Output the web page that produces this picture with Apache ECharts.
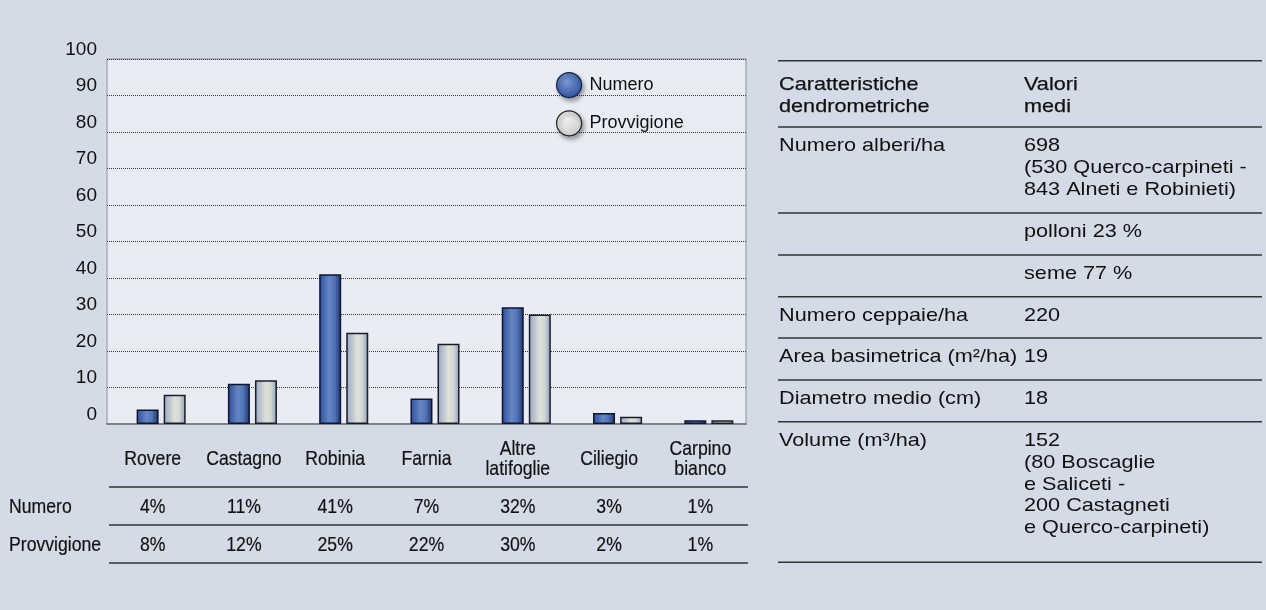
<!DOCTYPE html>
<html>
<head>
<meta charset="utf-8">
<script src="https://cdn.jsdelivr.net/npm/echarts@6/dist/echarts.min.js"></script>
<style>
  html, body { margin: 0; padding: 0; background: #d5dae7; }
  #chart { width: 1266px; height: 610px; }
</style>
</head>
<body>
<div id="chart"></div>
<script>
// ---------- DATA ----------
const categories = ['Rovere', 'Castagno', 'Robinia', 'Farnia', 'Altre latifoglie', 'Ciliegio', 'Carpino bianco'];
const numero = [4, 11, 41, 7, 32, 3, 1];
const provvigione = [8, 12, 25, 22, 30, 2, 1];
const seriesNames = ['Numero', 'Provvigione'];
const yMin = 0, yMax = 100, yStep = 10;
const tableHeader = ['Caratteristiche\ndendrometriche', 'Valori\nmedi'];
const tableLabels = ['Numero alberi/ha', '', '', 'Numero ceppaie/ha', 'Area basimetrica (m²/ha)', 'Diametro medio (cm)', 'Volume (m³/ha)'];
const tableValues = [
  '698\n(530 Querco-carpineti -\n843 Alneti e Robinieti)',
  'polloni 23 %',
  'seme 77 %',
  '220',
  '19',
  '18',
  '152\n(80 Boscaglie\ne Saliceti -\n200 Castagneti\ne Querco-carpineti)'
];

// ---------- LAYOUT / STYLE ----------
const SANS = "'Liberation Sans', Arial, Helvetica, sans-serif";
const TXT = '#111';
const NARROW_SX = 0.84;      // condensed look for chart labels
const WIDE_SX = 1.14;        // wider look for table text
const tableLines = [60.7, 127, 213, 255, 296.7, 338, 380, 421.7, 562.3];
const tX1 = 779, tX2 = 1024, tLeft = 778, tRight = 1262;
const bottomLines = [487, 525, 563];
const catLabelY = 459, rowY = [507, 545];

const blueGrad = new echarts.graphic.LinearGradient(0, 0, 1, 0, [
  { offset: 0, color: '#2d4d98' },
  { offset: 0.45, color: '#6585c4' },
  { offset: 0.7, color: '#5273b6' },
  { offset: 1, color: '#1c2f68' }
]);
const greyGrad = new echarts.graphic.LinearGradient(0, 0, 1, 0, [
  { offset: 0, color: '#97a5c3' },
  { offset: 0.5, color: '#dfe1da' },
  { offset: 0.72, color: '#d3d7d4' },
  { offset: 1, color: '#8d9bbb' }
]);
const blueRad = new echarts.graphic.RadialGradient(0.4, 0.35, 0.7, [
  { offset: 0, color: '#7d9ad6' },
  { offset: 1, color: '#2c4f9e' }
]);
const greyRad = new echarts.graphic.RadialGradient(0.4, 0.35, 0.7, [
  { offset: 0, color: '#f0f0ee' },
  { offset: 1, color: '#c9cbcc' }
]);

const chart = echarts.init(document.getElementById('chart'), null, { renderer: 'canvas' });
chart.setOption({
  backgroundColor: '#d5dae7',
  animation: false,
  legend: {
    orient: 'vertical', left: 551, top: 67,
    itemWidth: 25, itemHeight: 25, itemGap: 12, icon: 'circle',
    textStyle: { fontSize: 18, fontFamily: SANS, color: TXT, padding: [0, 0, 0, 3] },
    data: [
      { name: seriesNames[0], itemStyle: { color: blueRad, borderColor: '#15224a', borderWidth: 1.2,
        shadowColor: 'rgba(0,0,0,0.35)', shadowBlur: 4, shadowOffsetX: 2, shadowOffsetY: 3 } },
      { name: seriesNames[1], itemStyle: { color: greyRad, borderColor: '#222', borderWidth: 1.2,
        shadowColor: 'rgba(0,0,0,0.35)', shadowBlur: 4, shadowOffsetX: 2, shadowOffsetY: 3 } }
    ]
  },
  grid: [
    { left: 107, top: 59, width: 639, height: 365, show: true, backgroundColor: '#e9ecf4',
      borderColor: '#8c919c', borderWidth: 1 },
    { left: 115.5, top: 59, width: 639, height: 365, show: false }
  ],
  xAxis: [
    { type: 'category', gridIndex: 0, data: categories,
      axisLine: { show: true, lineStyle: { color: '#7c818c', width: 2 } },
      axisTick: { show: false }, axisLabel: { show: false } },
    { type: 'category', gridIndex: 1, data: categories, show: false }
  ],
  yAxis: [
    { type: 'value', gridIndex: 0, min: yMin, max: yMax, interval: yStep,
      axisLine: { show: false }, axisTick: { show: false },
      axisLabel: { margin: 10, fontSize: 19, fontFamily: SANS, color: TXT, verticalAlign: 'bottom' },
      splitLine: { show: true, lineStyle: { color: '#3a3a3a', width: 1, type: [1, 1] } } },
    { type: 'value', gridIndex: 1, min: yMin, max: yMax, interval: yStep, show: false,
      splitLine: { show: false } }
  ],
  series: [
    { name: seriesNames[0], type: 'bar', xAxisIndex: 1, yAxisIndex: 1, data: numero,
      barWidth: 22, barGap: '23%',
      itemStyle: { color: blueGrad, borderColor: '#0e1530', borderWidth: 1.5 } },
    { name: seriesNames[1], type: 'bar', xAxisIndex: 1, yAxisIndex: 1, data: provvigione,
      barWidth: 22, barGap: '23%',
      itemStyle: { color: greyGrad, borderColor: '#1a1d26', borderWidth: 1.5 } }
  ]
});

// ---------- TEXT / TABLES (positions from the category axis scale) ----------
const graphics = [];
function label(text, x, y, opts) {
  graphics.push({
    type: 'text', x: x, y: y, scaleX: NARROW_SX, silent: true,
    style: Object.assign({ text: text, fontSize: 21, lineHeight: 20, fontFamily: SANS, fill: TXT,
      align: 'center', verticalAlign: 'middle', stroke: TXT, lineWidth: 0.2 }, opts || {})
  });
}
categories.forEach((c, i) => {
  const px = chart.convertToPixel({ xAxisIndex: 0 }, c);
  label(c.replace(' ', '\n'), px, catLabelY);
  label(numero[i] + '%', px, rowY[0]);
  label(provvigione[i] + '%', px, rowY[1]);
});
label(seriesNames[0], 9, rowY[0], { align: 'left' });
label(seriesNames[1], 9, rowY[1], { align: 'left' });
bottomLines.forEach(y => graphics.push({
  type: 'line', shape: { x1: 109, y1: y, x2: 748, y2: y },
  style: { stroke: '#333', lineWidth: 1.5 }, silent: true
}));

// right table
tableLines.forEach(y => graphics.push({
  type: 'line', shape: { x1: tLeft, y1: y, x2: tRight, y2: y },
  style: { stroke: '#333', lineWidth: 1.5 }, silent: true
}));
const LH = 21.8, FS = 19;
function cell(text, x, y, extra) {
  graphics.push({
    type: 'text', x: x, y: y, scaleX: WIDE_SX, silent: true,
    style: Object.assign({ text: text, fontSize: FS, lineHeight: LH, fontFamily: SANS, fill: TXT,
      verticalAlign: 'top', align: 'left' }, extra || {})
  });
}
tableHeader.forEach((t, i) => cell(t, i === 0 ? tX1 : tX2, tableLines[0] + 24 - LH / 2,
  { stroke: TXT, lineWidth: 0.25 }));
tableLabels.forEach((t, i) => {
  const top = tableLines[i + 1] + 19 - LH / 2;
  if (t) cell(t, tX1, top);
  cell(tableValues[i], tX2, top);
});

chart.setOption({ graphic: graphics });
</script>
</body>
</html>
